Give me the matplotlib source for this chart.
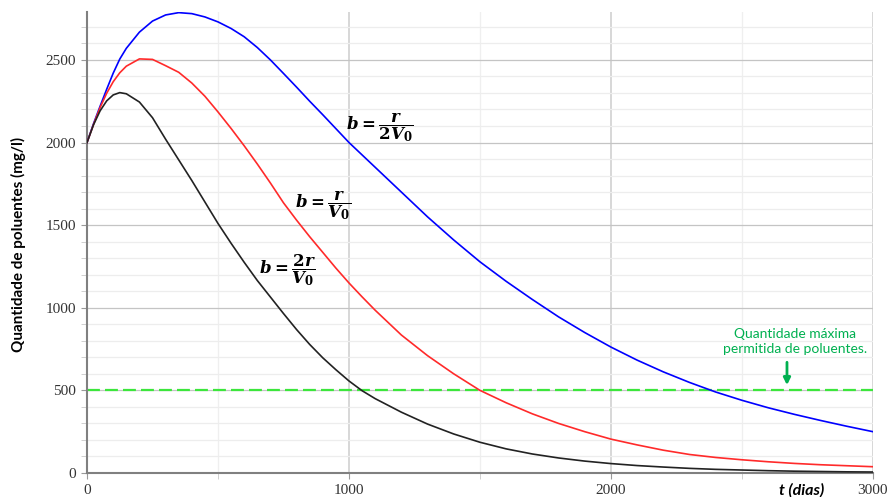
import matplotlib
matplotlib.use('Agg')
import matplotlib.pyplot as plt
from matplotlib.ticker import MultipleLocator

# ==========================================
# fonts: serif ticks, bold-italic math labels
# ==========================================
plt.rcParams['font.family'] = 'Liberation Serif'
plt.rcParams['mathtext.fontset'] = 'custom'
plt.rcParams['mathtext.it'] = 'DejaVu Serif:italic:bold'
plt.rcParams['mathtext.rm'] = 'DejaVu Serif:bold'
plt.rcParams['mathtext.bf'] = 'DejaVu Serif:bold'

# ==========================================
# data (t in days, mg/l)
# ==========================================
t_dias = [0, 25, 50, 75, 100, 125, 150, 200, 250, 300, 350, 400, 450, 500,
          550, 600, 650, 700, 750, 800, 850, 900, 950, 1000, 1050,
          1100, 1200, 1300, 1400, 1500, 1600, 1700, 1800, 1900, 2000,
          2100, 2200, 2300, 2400, 2500, 2600, 2700, 2800, 2900, 3000]

# b = r / (2 V0)
c_blue = [2000, 2115, 2220, 2322, 2420, 2505, 2570, 2668, 2735, 2772, 2786, 2780, 2760, 2730,
          2690, 2640, 2575, 2500, 2418, 2335, 2250, 2168, 2084, 2000, 1925,
          1850, 1700, 1550, 1410, 1278, 1160, 1050, 945, 850, 762,
          683, 612, 548, 490, 440, 395, 355, 318, 283, 250]

# b = r / V0
c_red = [2000, 2110, 2212, 2298, 2368, 2422, 2462, 2506, 2503, 2465, 2425, 2360, 2280, 2185,
         2085, 1980, 1870, 1755, 1635, 1530, 1430, 1335, 1240, 1150, 1066,
         985, 835, 710, 600, 500, 425, 358, 300, 250, 205,
         170, 138, 112, 94, 80, 68, 58, 50, 44, 38]

# b = 2r / V0
c_black = [2000, 2108, 2192, 2252, 2288, 2302, 2295, 2245, 2150, 2020, 1895, 1770, 1640, 1510,
           1390, 1275, 1165, 1065, 965, 868, 778, 697, 625, 557, 498,
           450, 368, 296, 236, 186, 146, 115, 91, 72, 57,
           45, 36, 28, 22, 18, 14, 11, 9, 7, 6]

limite = 500  # quantidade máxima permitida

fig = plt.figure(figsize=(8.88, 4.97), dpi=100)
ax = fig.add_axes([0.098, 0.0483, 0.885, 0.9276])

ax.set_xlim(0, 3000)
ax.set_ylim(0, 2790)

# grid
ax.xaxis.set_major_locator(MultipleLocator(1000))
ax.xaxis.set_minor_locator(MultipleLocator(500))
ax.yaxis.set_major_locator(MultipleLocator(500))
ax.yaxis.set_minor_locator(MultipleLocator(100))
ax.grid(which='major', axis='y', color='#C4C4C4', linewidth=0.9)
ax.grid(which='minor', axis='y', color='#EDEDED', linewidth=0.9)
ax.grid(which='major', axis='x', color='#D4D4D4', linewidth=1.3)
ax.grid(which='minor', axis='x', color='#EFEFEF', linewidth=0.9)
ax.set_axisbelow(True)

for side in ['top', 'right']:
    ax.spines[side].set_visible(False)
for side in ['left', 'bottom']:
    ax.spines[side].set_color('#808080')
    ax.spines[side].set_linewidth(1.5)

ax.tick_params(which='major', direction='out', length=4.5, width=0.8, color='#9A9A9A',
               labelsize=11, labelcolor='#333333', pad=3.5)
ax.tick_params(which='minor', direction='out', length=4.5, width=0.7, color='#D0D0D0')

# curves
ax.plot(t_dias, c_blue, color='#0000FF', linewidth=1.2, zorder=3)
ax.plot(t_dias, c_red, color='#FF2A2A', linewidth=1.2, zorder=3)
ax.plot(t_dias, c_black, color='#222222', linewidth=1.2, zorder=3)
ax.axhline(limite, color='#3CE63C', linewidth=1.6, dashes=(5.8, 2.3), zorder=2)

# curve labels
ax.text(989, 2091, r'$b=\dfrac{r}{2V_0}$', fontsize=12, ha='left', va='center', zorder=4)
ax.text(794, 1619, r'$b=\dfrac{r}{V_0}$', fontsize=12, ha='left', va='center', zorder=4)
ax.text(656, 1227, r'$b=\dfrac{2r}{V_0}$', fontsize=12, ha='left', va='center', zorder=4)

# limit annotation
ax.text(2702, 797, 'Quantidade máxima\npermitida de poluentes.', family='Lato',
        fontsize=10, color='#00B050', ha='center', va='center', linespacing=1.25)
ax.annotate('', xy=(2672, 532), xytext=(2672, 670),
            arrowprops=dict(arrowstyle='-|>', color='#00B050', lw=2,
                            mutation_scale=10, shrinkA=0, shrinkB=0))

fig.text(0.021, 0.509, 'Quantidade de poluentes (mg/l)', rotation=90, family='Lato',
         fontweight='bold', fontsize=11, ha='center', va='center')
fig.text(0.903, 0.014, 't (dias)', family='Lato', fontweight='bold', style='italic',
         fontsize=11.5, ha='center', va='center')

fig.savefig('out.png', dpi=100)
